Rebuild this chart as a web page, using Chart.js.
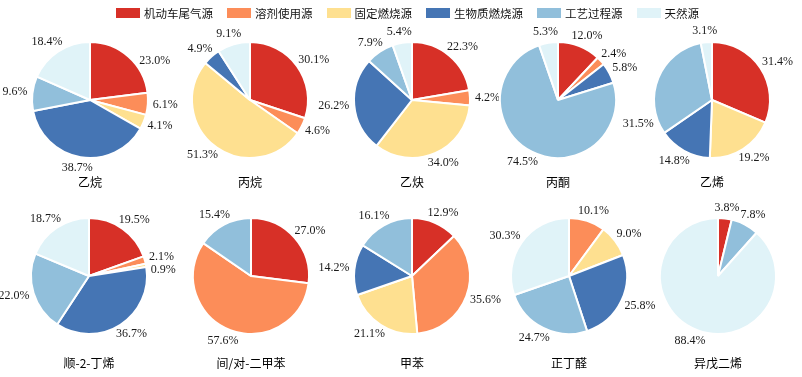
<!DOCTYPE html>
<html>
<head>
<meta charset="utf-8">
<script src="https://cdn.jsdelivr.net/npm/chart.js@4.4.1/dist/chart.umd.min.js"></script>
<style>
  html, body { margin: 0; padding: 0; background: #fff; }
  #wrap { position: relative; width: 802px; height: 377px; overflow: hidden; }
  #wrap canvas { position: absolute; }
  #legend { position: absolute; left: 116px; top: 5px; display: flex; align-items: center;
            font-family: "Noto Sans CJK SC", sans-serif; font-size: 11.5px; color: #111; z-index: 5; }
  #legend .item { display: flex; align-items: center; margin-right: 14px; }
  #legend .box { width: 24px; height: 10px; margin-right: 4px; }
</style>
</head>
<body>
<div id="wrap"><div id="legend"></div></div>
<script>
// source categories + colours
const categories = ['机动车尾气源', '溶剂使用源', '固定燃烧源', '生物质燃烧源', '工艺过程源', '天然源'];
const colors = ['#d73027', '#fc8d59', '#fee090', '#4575b4', '#91bfdb', '#e0f3f8'];

// species (one pie each)
const species = ['乙烷', '丙烷', '乙炔', '丙酮', '乙烯', '顺-2-丁烯', '间/对-二甲苯', '甲苯', '正丁醛', '异戊二烯'];

// contribution (%) of each source, per species
const vehicle    = [23.0, 30.1, 22.3, 12.0, 31.4, 19.5, 27.0, 12.9, 0,    3.8];
const solvent    = [6.1,  4.6,  4.2,  2.4,  0,    2.1,  57.6, 35.6, 10.1, 0];
const stationary = [4.1,  51.3, 34.0, 0,    19.2, 0.9,  0,    21.1, 9.0,  0];
const biomass    = [38.7, 4.9,  26.2, 5.8,  14.8, 36.7, 0,    14.2, 25.8, 0];
const processSrc = [9.6,  0,    7.9,  74.5, 31.5, 22.0, 15.4, 16.1, 24.7, 7.8];
const natural    = [18.4, 9.1,  5.4,  5.3,  3.1,  18.7, 0,    0,    30.3, 88.4];

const series = [vehicle, solvent, stationary, biomass, processSrc, natural];

// layout
const centersX = [89.5, 249.5, 411.5, 557.5, 711.5, 88.5, 251, 411.5, 568.5, 717.5];
const rowY = [100, 276];
const titleOffset = [82, 87];
const RADIUS = 58;
const CW = 240, CH = 220;
// a couple of labels sit off the slice middle in the original (fraction along the slice)
const labelFrac = { 0: { 0: 0.67 }, 4: { 4: 0.13 } };

// html legend
const legendEl = document.getElementById('legend');
categories.forEach((c, i) => {
  const it = document.createElement('div');
  it.className = 'item';
  it.innerHTML = `<span class="box" style="background:${colors[i]}"></span><span>${c}</span>`;
  legendEl.appendChild(it);
});

// labels outside the pie + species name underneath
const pieLabels = {
  id: 'pieLabels',
  afterDatasetsDraw(chart, args, opts) {
    const ctx = chart.ctx;
    const meta = chart.getDatasetMeta(0);
    const data = chart.data.datasets[0].data;
    const frac = opts.frac || {};
    const lh = 12;
    ctx.save();
    ctx.font = '12px "Liberation Serif", "Times New Roman", serif';
    ctx.fillStyle = '#1a1a1a';
    ctx.textAlign = 'center';
    ctx.textBaseline = 'middle';
    const placed = [];
    let cx = 0, cy = 0;
    meta.data.forEach((arc, i) => {
      cx = arc.x; cy = arc.y;
      if (!data[i]) return;
      const f = frac[i] !== undefined ? frac[i] : 0.5;
      const mid = arc.startAngle + (arc.endAngle - arc.startAngle) * f;
      const c = Math.cos(mid), s = Math.sin(mid);
      const txt = data[i].toFixed(1) + '%';
      const w = ctx.measureText(txt).width;
      const ax = arc.x + (arc.outerRadius + 5) * c;
      const ay = arc.y + (arc.outerRadius + 5) * s;
      let x = ax + c * w / 2;
      let y = ay + s * lh / 2;
      // push away from labels already placed (clockwise direction)
      placed.forEach(p => {
        if (Math.abs(p.x - x) < (p.w + w) / 2 && Math.abs(p.y - y) < lh) {
          y = c >= 0 ? p.y + lh + 1 : p.y - lh - 1;
        }
      });
      placed.push({ x, y, w });
      ctx.fillText(txt, x, y);
    });
    ctx.font = '12px "Noto Sans CJK SC", sans-serif';
    ctx.fillStyle = '#000';
    ctx.fillText(opts.title, cx, cy + opts.titleOffset);
    ctx.restore();
  }
};

const wrap = document.getElementById('wrap');
species.forEach((name, k) => {
  const row = k < 5 ? 0 : 1;
  const canvas = document.createElement('canvas');
  canvas.width = CW;
  canvas.height = CH;
  canvas.style.left = (centersX[k] - CW / 2) + 'px';
  canvas.style.top = (rowY[row] - CH / 2) + 'px';
  wrap.appendChild(canvas);

  new Chart(canvas.getContext('2d'), {
    type: 'pie',
    data: {
      labels: categories,
      datasets: [{
        data: series.map(s => s[k]),
        backgroundColor: colors,
        borderColor: '#ffffff',
        borderWidth: 2,
        radius: RADIUS
      }]
    },
    options: {
      responsive: false,
      animation: false,
      events: [],
      layout: { padding: 0 },
      plugins: {
        legend: { display: false },
        tooltip: { enabled: false },
        pieLabels: { title: name, titleOffset: titleOffset[row], frac: labelFrac[k] }
      }
    },
    plugins: [pieLabels]
  });
});
</script>
</body>
</html>
